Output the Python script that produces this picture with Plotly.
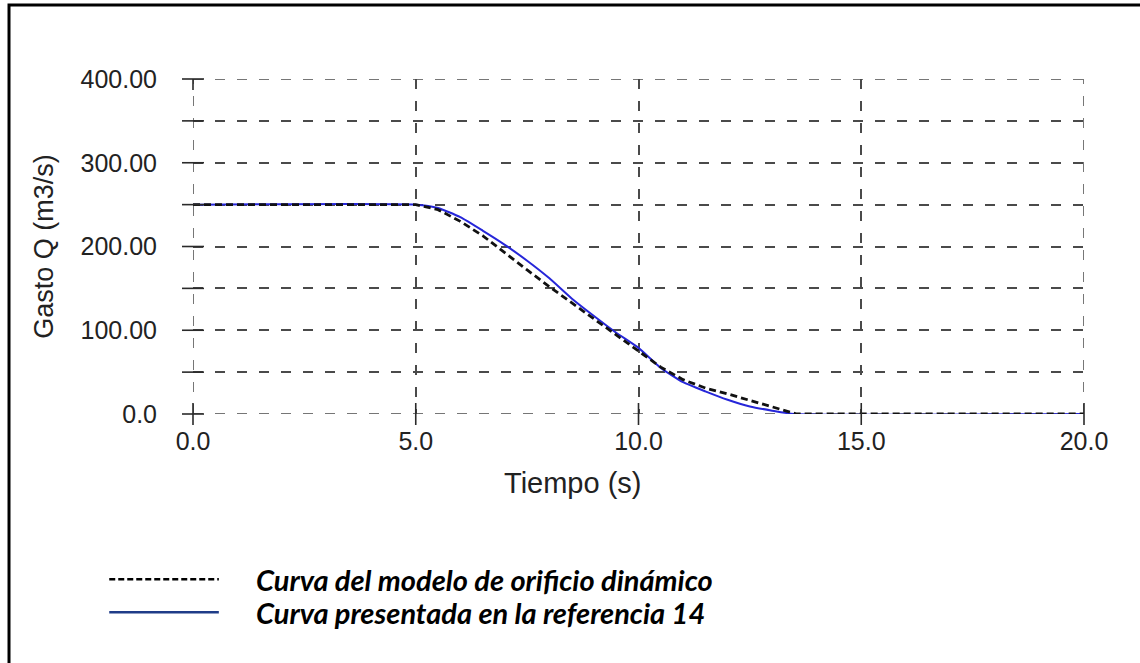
import plotly.graph_objects as go

# Time axis samples (s) and discharge (m3/s) for each curve
t_orificio = [0.0, 5.0, 5.5, 6.0, 6.5, 7.0, 7.5, 8.0, 8.5, 9.0, 9.5, 10.0,
              10.5, 11.0, 11.5, 12.0, 12.5, 13.0, 13.55, 20.0]
q_orificio = [250, 250, 244, 230, 213, 192, 172, 152, 133, 114, 95, 76,
              56, 41, 31, 24, 16, 8, 0, 0]

t_ref14 = [0.0, 5.0, 5.5, 6.0, 6.5, 7.0, 7.5, 8.0, 8.5, 9.0, 9.5, 10.0,
           10.5, 11.0, 11.5, 12.0, 12.5, 13.0, 13.5, 20.0]
q_ref14 = [250, 250, 246, 235, 219, 202, 183, 162, 138, 117, 97, 79,
           55, 38, 27, 17, 9, 4, 0, 0]

x_ticks = [0, 5, 10, 15, 20]
x_tick_text = ["0.0", "5.0", "10.0", "15.0", "20.0"]
y_ticks = [0, 50, 100, 150, 200, 250, 300, 350, 400]
y_tick_text = ["0.0", "", "100.00", "", "200.00", "", "300.00", "", "400.00"]
x_range = [0, 20]
y_range = [0, 400]

legend_labels = ["Curva del modelo de orificio dinámico",
                 "Curva presentada en la referencia 14"]

GRID = "#4a4a4a"
TICK = "#2a2a2a"
FONT = "Liberation Sans, Arial, sans-serif"
GRID_DASH = "10px,12px"

fig = go.Figure()

fig.add_trace(go.Scatter(
    x=t_ref14, y=q_ref14, mode="lines",
    line=dict(color="#2626d9", width=2, shape="spline", smoothing=0.5),
    showlegend=False, hoverinfo="skip"))

fig.add_trace(go.Scatter(
    x=t_orificio, y=q_orificio, mode="lines",
    line=dict(color="#111111", width=2.8, dash="7px,4px"),
    showlegend=False, hoverinfo="skip"))

axis_common = dict(
    showgrid=True, gridcolor=GRID, gridwidth=1.5, griddash=GRID_DASH,
    zeroline=False, showline=False, ticks="outside", ticklen=5,
    tickcolor="rgba(0,0,0,0)", tickfont=dict(family=FONT, size=25, color="#222"),
)

fig.update_xaxes(range=x_range, tickmode="array", tickvals=x_ticks,
                 ticktext=x_tick_text, ticklabelstandoff=0, **axis_common)
fig.update_yaxes(
    range=y_range, tickmode="array", tickvals=y_ticks, ticktext=y_tick_text,
    title=dict(text="Gasto Q (m3/s)", font=dict(family=FONT, size=27, color="#222"),
               standoff=19),
    ticklabelstandoff=25, **axis_common)

# x axis title
fig.add_annotation(xref="paper", yref="paper", x=0.427, y=-0.205,
                   xanchor="center", yanchor="middle", showarrow=False,
                   text="Tiempo (s)", font=dict(family=FONT, size=29, color="#222"))

# dashed frame lines on the edges of the data range
edge = dict(color=GRID, width=1.5, dash=GRID_DASH)
for xv in x_range:
    fig.add_shape(type="line", xref="x", yref="y", x0=xv, x1=xv,
                  y0=y_range[0], y1=y_range[1], line=edge, layer="between")
for yv in y_range:
    fig.add_shape(type="line", xref="x", yref="y", x0=x_range[0], x1=x_range[1],
                  y0=yv, y1=yv, line=edge, layer="between")

# cross-shaped tick marks on the left and bottom lines (paper refs, unclipped)
def to_paper(v, rng):
    return (v - rng[0]) / (rng[1] - rng[0])

cross = dict(color=TICK, width=1.6)
for yv in y_ticks:
    fig.add_shape(type="line", xref="paper", yref="paper", xsizemode="pixel",
                  xanchor=0, x0=-11, x1=11,
                  y0=to_paper(yv, y_range), y1=to_paper(yv, y_range), line=cross)
for xv in x_ticks:
    fig.add_shape(type="line", xref="paper", yref="paper", ysizemode="pixel",
                  yanchor=0, y0=-11, y1=11,
                  x0=to_paper(xv, x_range), x1=to_paper(xv, x_range), line=cross)
# short solid stub below the top-left corner
fig.add_shape(type="line", xref="paper", yref="paper", ysizemode="pixel",
              yanchor=1, y0=-11, y1=0, x0=0, x1=0, line=cross)

# outer frame (left and top edges visible)
fig.add_shape(type="rect", xref="paper", yref="paper",
              x0=-0.2065, x1=1.2, y0=-1.0, y1=1.2209,
              line=dict(color="black", width=3), layer="below")

# legend drawn below the axes
leg_y = [-0.493, -0.592]
fig.add_shape(type="line", xref="paper", yref="paper",
              x0=-0.094, x1=0.029, y0=leg_y[0], y1=leg_y[0],
              line=dict(color="black", width=2.5, dash="6px,3px"))
fig.add_shape(type="line", xref="paper", yref="paper",
              x0=-0.094, x1=0.029, y0=leg_y[1], y1=leg_y[1],
              line=dict(color="#1f3c88", width=2.5))
for label, yy in zip(legend_labels, leg_y):
    fig.add_annotation(
        xref="paper", yref="paper", x=0.068, y=yy, xanchor="left", yanchor="middle",
        text="<b><i>" + label + "</i></b>", showarrow=False,
        font=dict(family="Lato, sans-serif", size=29, color="black"))

fig.update_layout(
    width=1140, height=663,
    margin=dict(l=193, r=56, t=79, b=249),
    paper_bgcolor="white", plot_bgcolor="white",
)

fig.write_html("out.html")
